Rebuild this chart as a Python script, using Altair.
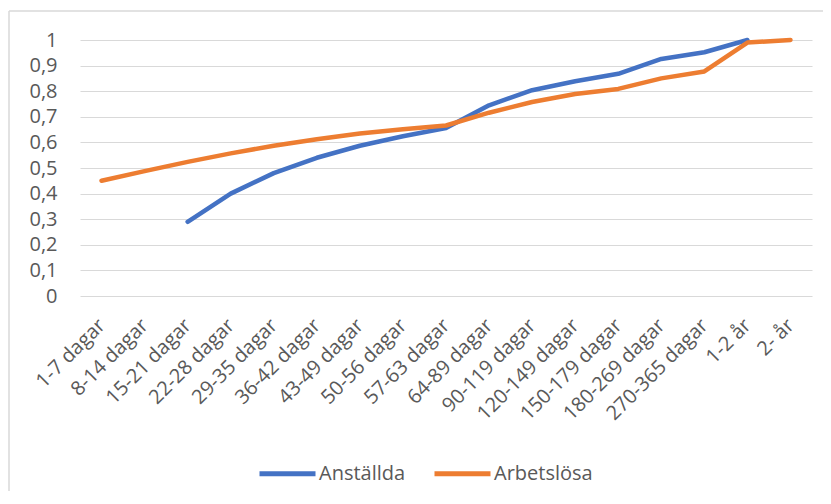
import altair as alt
import pandas as pd

categories = ["1-7 dagar", "8-14 dagar", "15-21 dagar", "22-28 dagar", "29-35 dagar",
              "36-42 dagar", "43-49 dagar", "50-56 dagar", "57-63 dagar", "64-89 dagar",
              "90-119 dagar", "120-149 dagar", "150-179 dagar", "180-269 dagar",
              "270-365 dagar", "1-2 år", "2- år"]
anstallda = [None, None, 0.29, 0.40, 0.48, 0.54, 0.587, 0.624, 0.656, 0.745,
             0.804, 0.839, 0.868, 0.926, 0.952, 1.0, None]
arbetslosa = [0.45, 0.488, 0.524, 0.557, 0.587, 0.612, 0.635, 0.651, 0.666, 0.716,
              0.758, 0.789, 0.809, 0.85, 0.877, 0.99, 1.0]
series_names = ["Anställda", "Arbetslösa"]
series_colors = ["#4472C4", "#ED7D31"]
y_ticks = [0, 0.1, 0.2, 0.3, 0.4, 0.5, 0.6, 0.7, 0.8, 0.9, 1.0]

rows = []
for name, vals in zip(series_names, [anstallda, arbetslosa]):
    for c, v in zip(categories, vals):
        if v is not None:
            rows.append({"kategori": c, "serie": name, "andel": v})
df = pd.DataFrame(rows)

FONT = "Open Sans"
GREY = "#595959"

lines = alt.Chart(df).mark_line(strokeWidth=4.5, strokeCap="round", strokeJoin="round").encode(
    x=alt.X("kategori:N", sort=categories, title=None,
            scale=alt.Scale(padding=0.5),
            axis=alt.Axis(labelAngle=-45, labelAlign="right", labelBaseline="middle",
                          labelPadding=26, ticks=False, tickSize=0, domain=False, grid=False,
                          labelFont=FONT, labelFontSize=20, labelColor=GREY)),
    y=alt.Y("andel:Q", title=None,
            scale=alt.Scale(domain=[0, 1], nice=False),
            axis=alt.Axis(values=y_ticks, ticks=False, tickSize=0, domain=False,
                          gridColor="#d9d9d9", gridWidth=1.2,
                          labelExpr="replace(format(datum.value, '.1~f'), '.', ',')",
                          labelPadding=23, labelFont=FONT, labelFontSize=20, labelColor=GREY)),
    color=alt.Color("serie:N", sort=series_names,
                    scale=alt.Scale(domain=series_names, range=series_colors),
                    legend=alt.Legend(title=None, orient="none", direction="horizontal",
                                      legendX=177, legendY=403, padding=0,
                                      symbolType="stroke", symbolSize=3136,
                                      symbolStrokeWidth=5, labelOffset=1, columnPadding=18,
                                      labelFont=FONT, labelFontSize=20, labelColor=GREY)),
)

frame_df = pd.DataFrame({"k": [0]})
top_line = alt.Chart(frame_df).mark_rule(color="#d9d9d9", strokeWidth=1.5).encode(
    x=alt.value(-71), x2=alt.value(760), y=alt.value(-29))
left_line = alt.Chart(frame_df).mark_rule(color="#d9d9d9", strokeWidth=1.5).encode(
    x=alt.value(-71), y=alt.value(-29), y2=alt.value(470))

chart = alt.layer(top_line, left_line, lines).properties(
    width=732, height=256,
    autosize=alt.AutoSizeParams(type="none"),
    padding={"left": 72, "top": 32, "right": 11, "bottom": 195},
    background="white",
).configure_view(stroke=None)

chart.save("out.html", embed_options={"renderer": "svg", "actions": False})
